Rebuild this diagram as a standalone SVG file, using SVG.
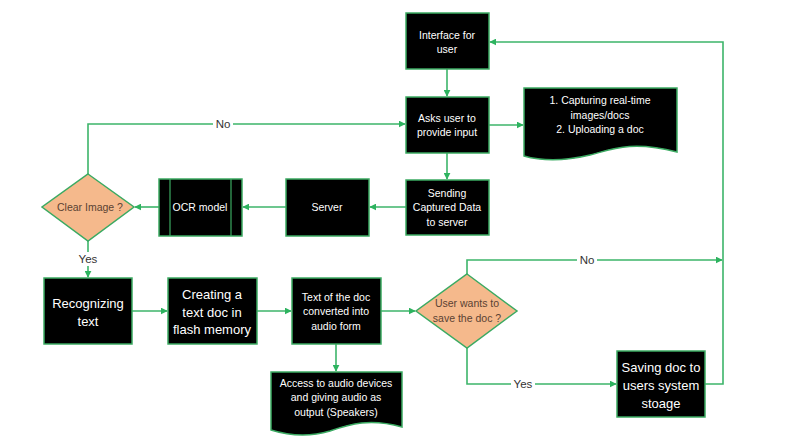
<svg xmlns="http://www.w3.org/2000/svg" width="796" height="441" viewBox="0 0 796 441">
<defs>
<marker id="ah" viewBox="0 0 10 10" refX="9" refY="5" markerWidth="7" markerHeight="7" markerUnits="userSpaceOnUse" orient="auto">
<path d="M0,0 L10,5 L0,10 Z" fill="#2DB35F"/>
</marker>
<style>
.box{fill:#000;stroke:#3BAA62;stroke-width:1.5}
.dia{fill:#F5B98C;stroke:#3BAA62;stroke-width:1.5}
.ln{fill:none;stroke:#3DB56A;stroke-width:1.6}
.arr{marker-end:url(#ah)}
text{font-family:"Liberation Sans",Arial,sans-serif;text-anchor:middle;dominant-baseline:central}
.w{fill:#fff;font-size:10.5px}
.wb{fill:#fff;font-size:13px}
.d{fill:#5A4233;font-size:10.5px}
.lb{fill:#333;font-size:11.5px}
</style>
</defs>
<rect width="796" height="441" fill="#fff"/>
<g id="connectors">
<path class="ln arr" d="M447,69 V96"/>
<path class="ln arr" d="M489,125 H523"/>
<path class="ln arr" d="M447,153 V179"/>
<path class="ln arr" d="M406,207 H370"/>
<path class="ln arr" d="M286,207 H243"/>
<path class="ln arr" d="M159,207 H135"/>
<path class="ln arr" d="M88,174 V124 H405"/>
<path class="ln arr" d="M88,241 V277"/>
<path class="ln arr" d="M132,311 H167"/>
<path class="ln arr" d="M257,311 H291"/>
<path class="ln arr" d="M381,311 H415"/>
<path class="ln arr" d="M336,344 V371"/>
<path class="ln arr" d="M467,274 V260 H722"/>
<path class="ln arr" d="M467,348 V384 H616"/>
<path class="ln arr" d="M705,384 H723 V42 H490"/>
<rect x="213" y="117" width="20" height="14" fill="#fff"/>
<text class="lb" x="223" y="124">No</text>
<rect x="577" y="253" width="20" height="14" fill="#fff"/>
<text class="lb" x="587" y="260">No</text>
<rect x="511" y="377" width="24" height="14" fill="#fff"/>
<text class="lb" x="523" y="384">Yes</text>
<rect x="76" y="252" width="24" height="14" fill="#fff"/>
<text class="lb" x="88" y="259">Yes</text>
</g>
<g id="interface">
<rect class="box" x="406" y="13" width="83" height="56"/>
<text class="w" x="447" y="35">Interface for</text>
<text class="w" x="447" y="49">user</text>
</g>
<g id="asks">
<rect class="box" x="406" y="97" width="83" height="56"/>
<text class="w" x="447" y="118">Asks user to</text>
<text class="w" x="447" y="132">provide input</text>
</g>
<g id="input-options">
<path class="box" d="M524,88 H677 V152 C630,140 610,150 590,155 C565,161 545,162 524,156 Z"/>
<text class="w" x="600" y="100">1. Capturing real-time</text>
<text class="w" x="600" y="115">images/docs</text>
<text class="w" x="600" y="129">2. Uploading a doc</text>
</g>
<g id="sending">
<rect class="box" x="406" y="180" width="83" height="55"/>
<text class="w" x="447" y="193">Sending</text>
<text class="w" x="447" y="207">Captured Data</text>
<text class="w" x="447" y="222">to server</text>
</g>
<g id="server">
<rect class="box" x="286" y="179" width="83" height="57"/>
<text class="w" x="327" y="207">Server</text>
</g>
<g id="ocr">
<rect class="box" x="159" y="179" width="83" height="57"/>
<line x1="170" y1="179" x2="170" y2="236" stroke="#3BAA62" stroke-width="1.2"/>
<line x1="231" y1="179" x2="231" y2="236" stroke="#3BAA62" stroke-width="1.2"/>
<text class="w" x="200" y="207">OCR model</text>
</g>
<g id="clear-image">
<path class="dia" d="M88,174 L134,207 L88,241 L42,207 Z"/>
<text class="d" x="90" y="207">Clear Image ?</text>
</g>
<g id="recognizing">
<rect class="box" x="44" y="278" width="88" height="66"/>
<text class="wb" x="88" y="303">Recognizing</text>
<text class="wb" x="88" y="321">text</text>
</g>
<g id="creating">
<rect class="box" x="168" y="278" width="89" height="66"/>
<text class="wb" x="212" y="294">Creating a</text>
<text class="wb" x="212" y="312">text doc in</text>
<text class="wb" x="212" y="329">flash memory</text>
</g>
<g id="text-to-audio">
<rect class="box" x="292" y="278" width="89" height="66"/>
<text class="w" x="336" y="297">Text of the doc</text>
<text class="w" x="336" y="311">converted into</text>
<text class="w" x="336" y="326">audio form</text>
</g>
<g id="audio-output">
<path class="box" d="M271,372 H402 V427 C370,418 350,424 330,431 C310,437 290,436 271,430 Z"/>
<text class="w" x="336" y="383">Access to audio devices</text>
<text class="w" x="336" y="397">and giving audio as</text>
<text class="w" x="336" y="412">output (Speakers)</text>
</g>
<g id="save-decision">
<path class="dia" d="M467,274 L517,311 L467,348 L416,311 Z"/>
<text class="d" x="467" y="303">User wants to</text>
<text class="d" x="467" y="318">save the doc ?</text>
</g>
<g id="saving">
<rect class="box" x="617" y="351" width="88" height="66"/>
<text class="wb" x="661" y="367">Saving doc to</text>
<text class="wb" x="661" y="385">users system</text>
<text class="wb" x="661" y="403">stoage</text>
</g>
</svg>
